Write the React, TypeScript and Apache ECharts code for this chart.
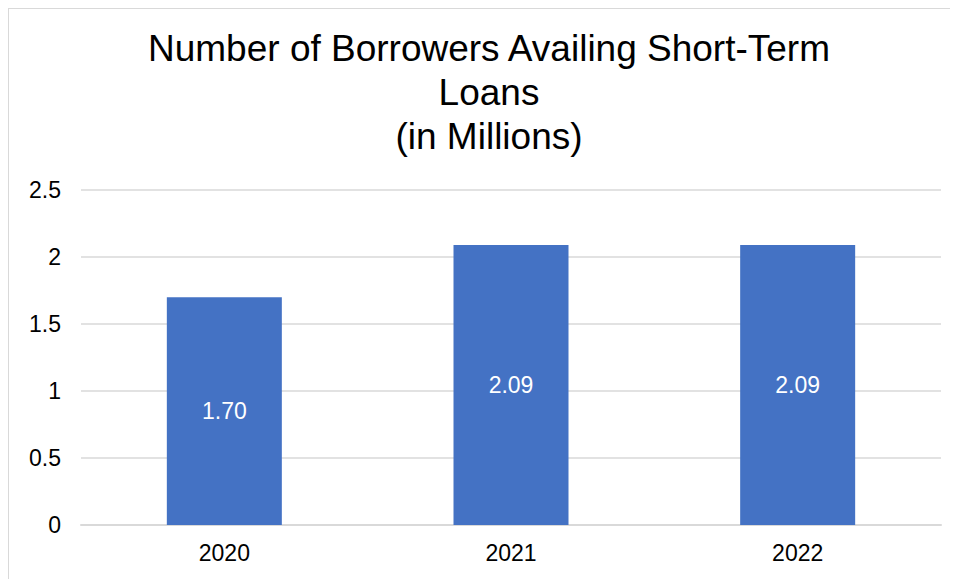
import React, { useEffect, useRef } from "react";
import * as echarts from "echarts";

const categories = ["2020", "2021", "2022"];
const borrowers = [1.7, 2.09, 2.09];
const titleLines = ["Number of Borrowers Availing Short-Term", "Loans", "(in Millions)"];

export default function App() {
  const ref = useRef<HTMLDivElement>(null);
  useEffect(() => {
    if (!ref.current) return;
    const chart = echarts.init(ref.current, null, { renderer: "svg" });
    chart.setOption({
      animation: false,
      backgroundColor: "#ffffff",
      textStyle: { fontFamily: "Liberation Sans, Arial, sans-serif" },
      title: {
        text: titleLines.join("\n"),
        left: 475,
        textAlign: "center",
        top: 12,
        textStyle: {
          fontFamily: "Liberation Sans, Arial, sans-serif",
          fontSize: 37,
          fontWeight: "normal",
          color: "#000000",
          lineHeight: 44,
        },
      },
      grid: { left: 72, right: 26, top: 181, bottom: 64, containLabel: false },
      xAxis: {
        type: "category",
        data: categories,
        axisLine: { show: true, lineStyle: { color: "#d9d9d9", width: 2 } },
        axisTick: { show: false },
        axisLabel: { color: "#000000", fontSize: 23, margin: 16 },
      },
      yAxis: {
        type: "value",
        min: 0,
        max: 2.5,
        interval: 0.5,
        axisLine: { show: false },
        axisTick: { show: false },
        splitLine: { lineStyle: { color: "#d9d9d9", width: 1.5 } },
        axisLabel: { color: "#000000", fontSize: 23, margin: 20 },
      },
      series: [
        {
          type: "bar",
          data: borrowers,
          barWidth: 115,
          itemStyle: { color: "#4472C4" },
          label: {
            show: true,
            position: "inside",
            color: "#ffffff",
            fontSize: 23,
            formatter: (p: any) => Number(p.value).toFixed(2),
          },
        },
      ],
    });
    return () => chart.dispose();
  }, []);
  return (
    <div style={{ width: 950, height: 571, overflow: "hidden" }}>
      <div style={{ border: "1px solid #d9d9d9", width: 958, height: 580 }}>
        <div ref={ref} style={{ width: 958, height: 580 }} />
      </div>
    </div>
  );
}
